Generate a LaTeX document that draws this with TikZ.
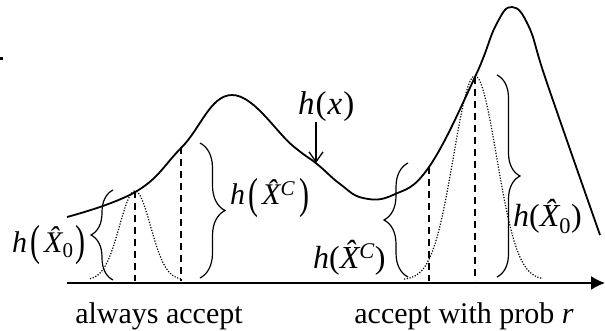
\documentclass[tikz,border=0pt]{standalone}
\usepackage{fontspec}
\setmainfont{Liberation Serif}
\usetikzlibrary{decorations.pathreplacing,arrows.meta}
\newcommand{\hX}{{\itshape X\char"0302}}
\newcommand{\bigp}[1]{\raisebox{-0.1em}{\scalebox{1}[1.45]{#1}}}
\begin{document}
\begin{tikzpicture}[x=1pt,y=-1pt,
  curve/.style={line width=1.8pt, line join=round},
  dashline/.style={line width=1.6pt, dash pattern=on 7pt off 5pt},
  dotline/.style={line width=1.2pt, dash pattern=on 1.2pt off 1.6pt},
  bracestyle/.style={decorate, decoration={brace, amplitude=#1}, line width=1.2pt},
  lab/.style={font=\fontsize{32}{36}\selectfont, inner sep=0pt},
  caption/.style={font=\fontsize{30}{36}\selectfont, inner sep=0pt}
]
\useasboundingbox (0,0) rectangle (605,331);
% stray dot
\fill (0,57.5) rectangle (2.5,60);
% axis
\coordinate (axL) at (67,283);
\coordinate (axR) at (605,283);
\draw[line width=1.6pt, -{Latex[length=14pt,width=14pt]}] (axL) -- (axR);
% main curve h(x)
\draw[curve] plot[smooth, tension=0.7] coordinates {
 (67,217) (137,191) (182,147) (232,95)
 (293,146) (317,164) (340,184) (363,198) (393,195)
 (429,167) (475,77) (496,25) (512,7) (529,27) (547,83) (600,235)};
% dotted gaussians
\draw[dotline] plot[domain=90:181, samples=80] (\x, {280-89*exp(-((\x-135)^2)/(2*15.5*15.5))});
\draw[dotline] plot[domain=404:542, samples=120] (\x, {280-204*exp(-((\x-475)^2)/(2*21.5*21.5))});
% dashed verticals
\draw[dashline] (135,191) -- (135,281);
\draw[dashline] (181,147) -- (181,281);
\draw[dashline] (429,167) -- (429,281);
\draw[dashline] (475,77) -- (475,281);
% braces
\draw[bracestyle=22] (113,280) -- (113,190);
\draw[bracestyle=25] (200,143) -- (200,278);
\draw[bracestyle=24] (408,277) -- (408,163);
\draw[bracestyle=23] (497,75) -- (497,277);
% labels
\node[lab, anchor=base west, font=\fontsize{30}{34}\selectfont] (l1) at (12,252) {\textit{h}\kern3pt\bigp{(}\kern4pt\hX\textsubscript{0}\kern2pt\bigp{)}};
\node[lab, anchor=base west, font=\fontsize{30}{34}\selectfont] (l2) at (230,205) {\textit{h}\kern3pt\bigp{(}\kern4pt\hX\textsuperscript{\itshape C}\kern4pt\bigp{)}};
\node[lab, anchor=base west] (l3) at (313,268) {\textit{h}(\hX\textsuperscript{\itshape C})};
\node[lab, anchor=base west] (l4) at (513,227) {\textit{h}(\hX\textsubscript{0})};
\node[lab, anchor=base west, font=\fontsize{33}{36}\selectfont] (hx) at (298,115) {\textit{h}\kern1pt(\kern1pt\textit{x}\kern1pt)};
\coordinate (hxfrom) at (316,122);
\coordinate (hxtip) at (316,163);
\draw[line width=1.3pt, -{Straight Barb[length=10pt,width=14pt]}] (hxfrom) -- (hxtip);
% captions
\node[caption, anchor=base] (c1) at (159,323) {always accept};
\node[caption, anchor=base] (c2) at (464,323) {accept with prob \textit{r}};
\end{tikzpicture}
\end{document}
